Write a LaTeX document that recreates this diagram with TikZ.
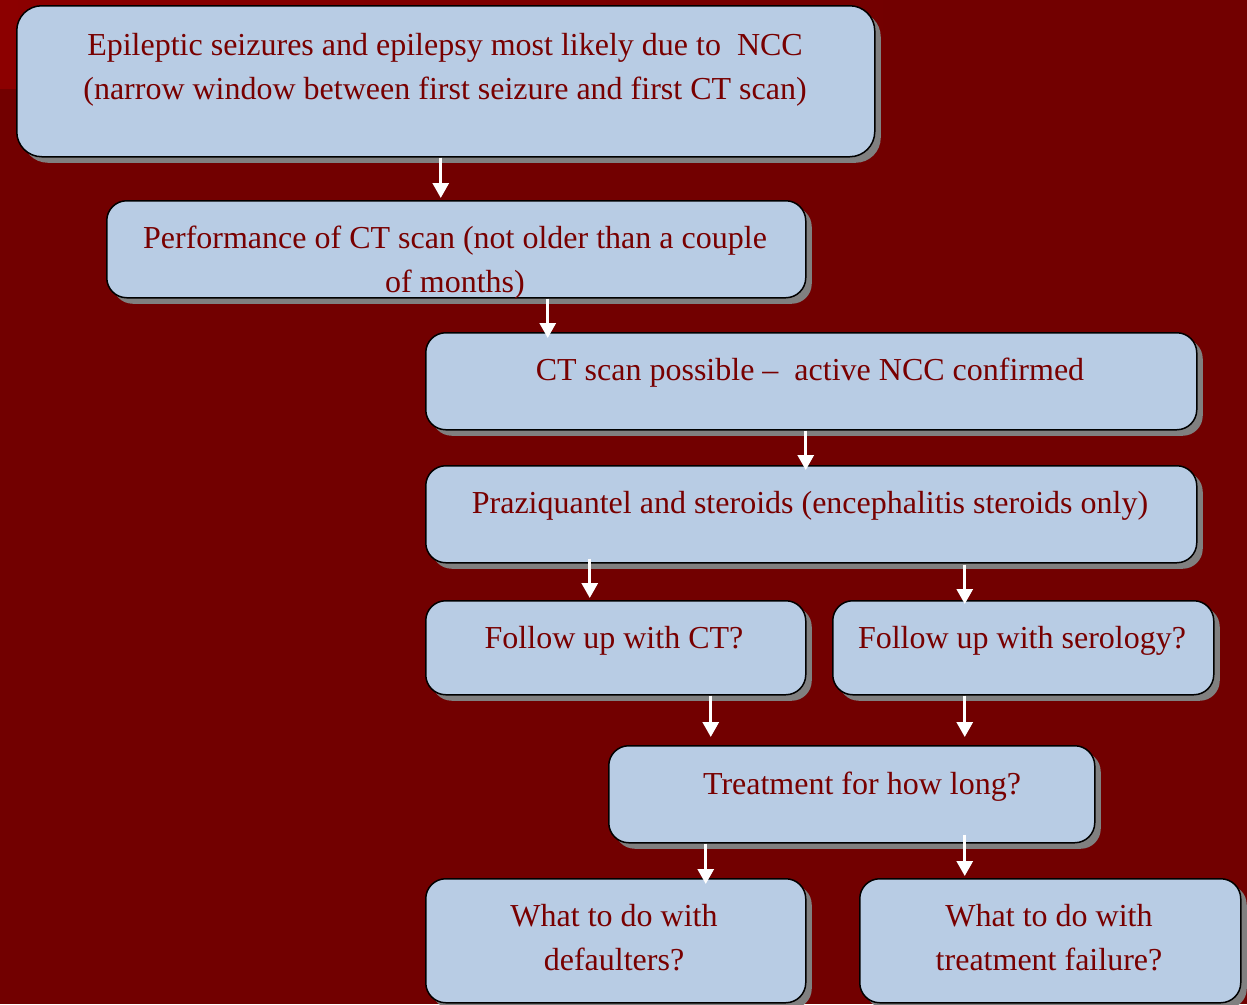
\documentclass[tikz,border=0pt]{standalone}
\usepackage{fontspec}
\setmainfont{Liberation Serif}
\usetikzlibrary{arrows.meta,shadows}

\definecolor{bgred}{RGB}{114,0,0}
\definecolor{bglight}{RGB}{140,0,0}
\definecolor{boxfill}{RGB}{184,204,228}
\definecolor{txtred}{RGB}{120,0,0}
\definecolor{shadowgray}{RGB}{128,128,128}

\tikzset{
  box/.style={draw=black, line width=1.5pt, fill=boxfill, rounded corners=20pt,
    inner sep=0pt, anchor=north west,
    drop shadow={shadow xshift=6pt, shadow yshift=-6pt, fill=shadowgray, opacity=1}},
  txt/.style={text=txtred, inner sep=0pt, anchor=base,
    font=\fontsize{32}{44}\selectfont},
  arr/.style={draw=white, line width=3pt, -{Triangle[width=16pt,length=15pt]}}
}

\begin{document}
\begin{tikzpicture}[x=1pt, y={(0pt,-1pt)}]
  \useasboundingbox (0,0) rectangle (1247,1004);

  % backdrop with a lighter band along the top left
  \fill[bgred] (0,0) rectangle (1247,1004);
  \shade[left color=bglight, right color=bgred] (0,0) rectangle (900,88);

  % boxes
  \node[box, minimum width=858pt, minimum height=151pt, rounded corners=25pt] (b1) at (16,5) {};
  \node[box, minimum width=699pt, minimum height=97pt] (b2) at (106,200) {};
  \node[box, minimum width=771pt, minimum height=97pt] (b3) at (425,332) {};
  \node[box, minimum width=771pt, minimum height=97pt] (b4) at (425,465) {};
  \node[box, minimum width=380pt, minimum height=94pt] (b5) at (425,600) {};
  \node[box, minimum width=381pt, minimum height=94pt] (b6) at (832,600) {};
  \node[box, minimum width=486pt, minimum height=97pt] (b7) at (608,745) {};
  \node[box, minimum width=380pt, minimum height=124pt] (b8) at (425,878) {};
  \node[box, minimum width=381pt, minimum height=124pt] (b9) at (859,878) {};

  % texts
  \node[txt] (t1a) at (445,55) {Epileptic seizures and epilepsy most likely due to\ \ NCC};
  \node[txt] (t1b) at (445,99) {(narrow window between first seizure and first CT scan)};
  \node[txt] (t2a) at (455,248) {Performance of CT scan (not older than a couple};
  \node[txt] (t2b) at (455,292) {of months)};
  \node[txt] (t3) at (810,380) {CT scan possible –\ \ active NCC confirmed};
  \node[txt] (t4) at (810,513) {Praziquantel and steroids (encephalitis steroids only)};
  \node[txt] (t5) at (614,648) {Follow up with CT?};
  \node[txt] (t6) at (1022,648) {Follow up with serology?};
  \node[txt] (t7) at (862,794) {Treatment for how long?};
  \node[txt] (t8a) at (614,926) {What to do with};
  \node[txt] (t8b) at (614,970) {defaulters?};
  \node[txt] (t9a) at (1049,926) {What to do with};
  \node[txt] (t9b) at (1049,970) {treatment failure?};

  % arrows
  \draw[arr] ([xshift=-5pt]b1.south) -- ([xshift=-5pt,yshift=2pt]b1.south |- b2.north);
  \draw[arr] ([xshift=91.5pt]b2.south) -- ([xshift=91.5pt,yshift=-6pt]b2.south |- b3.north);
  \draw[arr] ([xshift=-5.5pt]b3.south) -- ([xshift=-5.5pt,yshift=-5pt]b3.south |- b4.north);
  \draw[arr] ([xshift=-221.5pt,yshift=5pt]b4.south) -- ([xshift=-221.5pt,yshift=2pt]b4.south |- b5.north);
  \draw[arr] ([xshift=153.5pt,yshift=-1pt]b4.south) -- ([xshift=153.5pt,yshift=-4pt]b4.south |- b6.north);
  \draw[arr] ([xshift=95pt]b5.south) -- ([xshift=95pt,yshift=8pt]b5.south |- b7.north);
  \draw[arr] ([xshift=-58.5pt]b6.south) -- ([xshift=-58.5pt,yshift=8pt]b6.south |- b7.north);
  \draw[arr] ([xshift=-146pt]b7.south) -- ([xshift=-146pt,yshift=-6pt]b7.south |- b8.north);
  \draw[arr] ([xshift=113pt,yshift=9pt]b7.south) -- ([xshift=113pt,yshift=2pt]b7.south |- b9.north);
\end{tikzpicture}
\end{document}
